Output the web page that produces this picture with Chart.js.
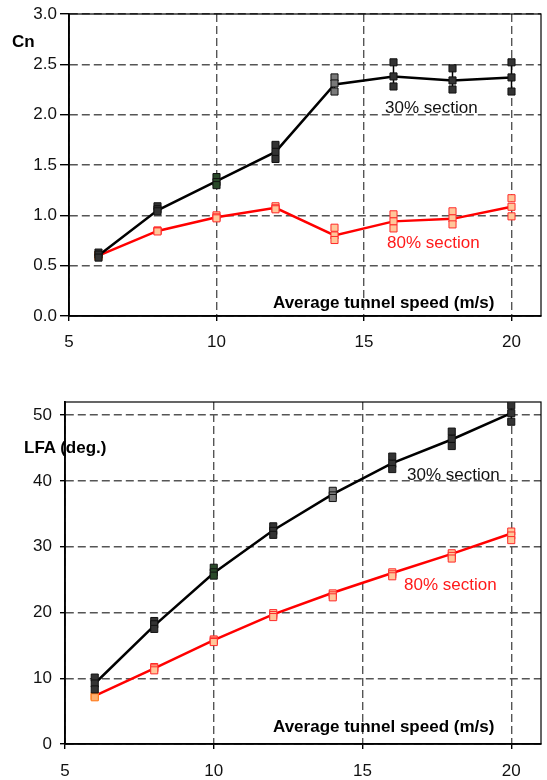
<!DOCTYPE html>
<html>
<head>
<meta charset="utf-8">
<script src="https://cdn.jsdelivr.net/npm/chart.js"></script>
<style>
  body { margin: 0; background: #fff; }
  #wrap { position: relative; width: 547px; height: 780px; font-family: "Liberation Sans", Arial, sans-serif; }
  canvas { position: absolute; left: 0; }
  .lbl { position: absolute; font-size: 17px; line-height: 17px; white-space: nowrap; }
  .b { font-weight: bold; color: #000; }
  .k { color: #111; }
  .r { color: #ff1a1a; }
</style>
</head>
<body>
<div id="wrap">
  <canvas id="cn" width="547" height="360" style="top:0"></canvas>
  <canvas id="lfa" width="547" height="400" style="top:380px"></canvas>

  <div class="lbl b" style="left:12px; top:33px">Cn</div>
  <div class="lbl k" style="left:385px; top:99px">30% section</div>
  <div class="lbl r" style="left:387px; top:234px">80% section</div>
  <div class="lbl b" style="left:273px; top:294px">Average tunnel speed (m/s)</div>

  <div class="lbl b" style="left:24px; top:439px">LFA (deg.)</div>
  <div class="lbl k" style="left:407px; top:466px">30% section</div>
  <div class="lbl r" style="left:404px; top:576px">80% section</div>
  <div class="lbl b" style="left:273px; top:718px">Average tunnel speed (m/s)</div>
</div>

<script>
const speeds = [6, 8, 10, 12, 14, 16, 18, 20];
const xTicks = [5, 10, 15, 20];
const cnTicks = [0, 0.5, 1, 1.5, 2, 2.5, 3];
const lfaTicks = [0, 10, 20, 30, 40, 50];

// Cn, mean line + individual runs
const cn30Mean = [0.60, 1.05, 1.34, 1.63, 2.30, 2.38, 2.34, 2.37];
const cn30Runs = [[0.63, 0.61, 0.58], [1.09, 1.06, 1.04], [1.38, 1.33, 1.30], [1.70, 1.63, 1.56],
                  [2.37, 2.31, 2.23], [2.52, 2.38, 2.28], [2.46, 2.34, 2.25], [2.52, 2.37, 2.23]];
const cn80Mean = [0.60, 0.845, 0.98, 1.075, 0.80, 0.94, 0.965, 1.085];
const cn80Runs = [[0.61, 0.60, 0.59], [0.85, 0.845, 0.84], [1.00, 0.98, 0.97], [1.09, 1.07, 1.06],
                  [0.877, 0.80, 0.755], [1.01, 0.94, 0.87], [1.04, 0.97, 0.91], [1.17, 1.085, 0.99]];

// LFA (deg.)
const lfa30Mean = [9.2, 18.0, 26.0, 32.5, 38.0, 42.7, 46.3, 50.3];
const lfa30Runs = [[10.1, 9.2, 8.3], [18.7, 18.2, 17.5], [26.8, 26.1, 25.6], [33.1, 32.4, 31.8],
                   [38.5, 37.8, 37.4], [43.7, 42.6, 41.8], [47.5, 46.4, 45.3], [51.5, 50.3, 49.0]];
const lfa80Mean = [7.3, 11.5, 15.8, 19.7, 23.0, 26.0, 28.9, 32.0];
const lfa80Runs = [[7.3, 7.2, 7.1], [11.7, 11.5, 11.2], [15.9, 15.7, 15.5], [19.9, 19.6, 19.3],
                   [22.9, 22.6, 22.3], [26.1, 25.8, 25.5], [29.0, 28.6, 28.2], [32.3, 31.7, 31.0]];

const FONT = "'Liberation Sans', Arial, sans-serif";

function toPoints(vals) {
  return speeds.map((x, i) => ({ x: x, y: vals[i] }));
}
function runPoints(runs) {
  const pts = [];
  runs.forEach((r, i) => r.forEach(v => pts.push({ x: speeds[i], y: v })));
  return pts;
}

// black markers: 10 m/s looks dark green, 14 m/s grey in the original
function blackFill(ctx) {
  const x = ctx.raw && ctx.raw.x;
  if (x === 10) return "#2a4a2a";
  if (x === 14) return "#7a7a7a";
  return "#333";
}
function redFill(ctx) {
  return ctx.raw && ctx.raw.x === 6 ? "#ffb070" : "#ffc79a";
}
function redEdge(ctx) {
  return ctx.raw && ctx.raw.x === 6 ? "#ff7a1a" : "#ff2a2a";
}

// frame + vertical spread bars
const framePlugin = {
  id: "frame",
  beforeDatasetsDraw(chart) {
    const a = chart.chartArea, c = chart.ctx;
    c.save();
    c.strokeStyle = "#000";
    c.lineWidth = 1.2;
    c.strokeRect(a.left, a.top, a.right - a.left, a.bottom - a.top);
    const runs = chart.options.plugins.frame.runs;
    const xs = chart.scales.x, ys = chart.scales.y;
    c.lineWidth = 1.5;
    runs.forEach((r, i) => {
      const px = xs.getPixelForValue(speeds[i]);
      c.beginPath();
      c.moveTo(px, ys.getPixelForValue(Math.max(...r)));
      c.lineTo(px, ys.getPixelForValue(Math.min(...r)));
      c.stroke();
    });
    c.restore();
  }
};

function makeChart(id, opts) {
  return new Chart(document.getElementById(id), {
    type: "line",
    data: {
      datasets: [
        { type: "scatter", data: runPoints(opts.runs30), pointStyle: "rect", pointRadius: 5,
          pointBackgroundColor: blackFill, pointBorderColor: "#111", pointBorderWidth: 1, order: 0 },
        { data: toPoints(opts.mean30), borderColor: "#000", borderWidth: 2.5, pointRadius: 0, order: 1 },
        { type: "scatter", data: runPoints(opts.runs80), pointStyle: "rect", pointRadius: 5,
          pointBackgroundColor: redFill, pointBorderColor: redEdge, pointBorderWidth: 1, order: 2 },
        { data: toPoints(opts.mean80), borderColor: "#ff0000", borderWidth: 2.5, pointRadius: 0, order: 3 }
      ]
    },
    options: {
      responsive: false,
      animation: false,
      events: [],
      layout: { padding: { top: opts.padTop, right: opts.padRight, left: 0, bottom: 0 } },
      plugins: { legend: { display: false }, tooltip: { enabled: false }, frame: { runs: opts.runs30 } },
      scales: {
        x: {
          type: "linear", min: 5, max: 21,
          afterBuildTicks: s => { s.ticks = xTicks.map(v => ({ value: v })); },
          afterFit: s => { s.height = opts.xHeight; },
          grid: { color: "#555", tickColor: "#000", tickLength: 5, lineWidth: 1.4 },
          border: { color: "#000", width: 1.8, dash: [8, 4] },
          ticks: { color: "#111", font: { family: FONT, size: 17 }, padding: opts.xPad, maxRotation: 0 }
        },
        y: {
          min: 0, max: opts.yMax,
          afterBuildTicks: s => { s.ticks = opts.yTicks.map(v => ({ value: v })); },
          afterFit: s => { s.width = opts.yWidth; },
          grid: { color: "#555", tickColor: "#000", tickLength: opts.yTickLen, lineWidth: 1.4 },
          border: { color: "#000", width: 1.8, dash: [8, 4] },
          ticks: { color: "#111", font: { family: FONT, size: 17 }, padding: opts.yPad,
                   callback: v => opts.fmt(v) }
        }
      }
    },
    plugins: [framePlugin]
  });
}

makeChart("cn", {
  runs30: cn30Runs, mean30: cn30Mean, runs80: cn80Runs, mean80: cn80Mean,
  yMax: 3, yTicks: cnTicks, fmt: v => v.toFixed(1),
  padTop: 14, padRight: 3, xHeight: 44, yWidth: 69, yTickLen: 9, yPad: 3, xPad: 11
});

makeChart("lfa", {
  runs30: lfa30Runs, mean30: lfa30Mean, runs80: lfa80Runs, mean80: lfa80Mean,
  yMax: 52, yTicks: lfaTicks, fmt: v => String(v),
  padTop: 22, padRight: 4, xHeight: 36, yWidth: 65, yTickLen: 5, yPad: 8, xPad: 12
});
</script>
</body>
</html>
